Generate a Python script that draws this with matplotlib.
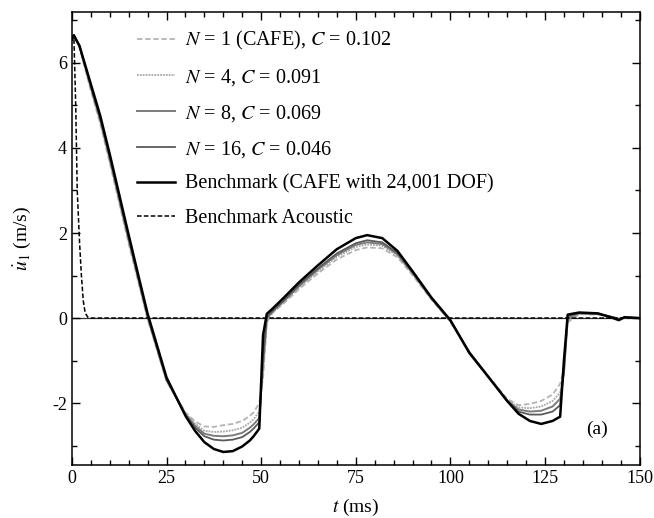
import matplotlib
matplotlib.use('Agg')
import matplotlib.pyplot as plt
from matplotlib.ticker import MultipleLocator

plt.rcParams['font.family'] = ['Liberation Serif', 'DejaVu Serif']
plt.rcParams['mathtext.fontset'] = 'stix'
plt.rcParams['axes.unicode_minus'] = False

# time grid (ms) shared by the CAFE curves
t = [0, 0.5, 2, 5, 7.5, 10, 12.5, 15, 17.5, 20, 25, 30, 32.5, 35, 37.5, 40, 42.5,
     45, 47, 48, 49.5, 50.5, 51.5, 53, 56, 60, 65, 70, 75, 78, 82, 86, 90, 95, 100,
     105, 110, 115, 118, 121, 124, 127, 129, 130, 131, 134, 139, 143, 144.5, 146,
     150]

benchmark = [6.55, 6.65, 6.4, 5.5, 4.75, 3.85, 2.9, 1.95, 1.02, 0.1, -1.4, -2.3,
             -2.65, -2.92, -3.08, -3.15, -3.13, -3.02, -2.88, -2.78, -2.6, -0.4,
             0.1, 0.22, 0.48, 0.84, 1.24, 1.62, 1.88, 1.95, 1.88, 1.58, 1.1, 0.48,
             -0.05, -0.82, -1.38, -1.95, -2.25, -2.42, -2.49, -2.42, -2.32, -1.0,
             0.08, 0.13, 0.11, 0.0, -0.05, 0.02, 0.0]

n16 = [6.55, 6.65, 6.4, 5.45, 4.68, 3.78, 2.83, 1.88, 0.96, 0.05, -1.45, -2.28,
       -2.58, -2.78, -2.86, -2.88, -2.86, -2.8, -2.68, -2.6, -2.45, -0.9, 0.02,
       0.17, 0.42, 0.78, 1.17, 1.52, 1.76, 1.83, 1.78, 1.53, 1.08, 0.47, -0.06,
       -0.8, -1.38, -1.95, -2.2, -2.27, -2.27, -2.2, -2.05, -1.2, 0.05, 0.12, 0.1,
       0.02, -0.03, 0.01, 0.0]

n8 = [6.55, 6.65, 6.4, 5.43, 4.65, 3.74, 2.79, 1.84, 0.93, 0.02, -1.46, -2.26,
      -2.53, -2.72, -2.77, -2.78, -2.76, -2.7, -2.58, -2.5, -2.35, -1.1, 0.0,
      0.15, 0.4, 0.75, 1.14, 1.48, 1.72, 1.78, 1.74, 1.5, 1.06, 0.46, -0.07,
      -0.8, -1.38, -1.94, -2.15, -2.2, -2.18, -2.08, -1.9, -1.3, 0.0, 0.11, 0.1,
      0.02, -0.02, 0.01, 0.0]

n4 = [6.55, 6.65, 6.38, 5.4, 4.62, 3.7, 2.75, 1.8, 0.9, 0.0, -1.47, -2.24,
      -2.48, -2.65, -2.68, -2.67, -2.64, -2.58, -2.46, -2.38, -2.2, -1.3, -0.05,
      0.13, 0.38, 0.72, 1.1, 1.44, 1.67, 1.73, 1.7, 1.47, 1.04, 0.45, -0.08,
      -0.8, -1.37, -1.93, -2.1, -2.12, -2.08, -1.95, -1.75, -1.3, -0.05, 0.1,
      0.09, 0.02, -0.02, 0.01, 0.0]

n1 = [6.55, 6.65, 6.35, 5.35, 4.57, 3.65, 2.7, 1.75, 0.86, -0.03, -1.48, -2.22,
      -2.43, -2.55, -2.56, -2.52, -2.49, -2.42, -2.3, -2.22, -2.0, -1.4, -0.1,
      0.12, 0.35, 0.68, 1.05, 1.38, 1.6, 1.66, 1.64, 1.43, 1.01, 0.43, -0.09,
      -0.8, -1.36, -1.9, -2.05, -2.02, -1.95, -1.8, -1.55, -1.2, -0.1, 0.09,
      0.08, 0.02, -0.02, 0.01, 0.0]

# benchmark acoustic solution
t_ac = [0, 0.5, 1.0, 1.4, 2.0, 2.5, 3.0, 3.5, 4.2, 5, 150]
acoustic = [6.6, 6.65, 5.0, 3.0, 1.8, 1.0, 0.4, 0.12, 0.02, 0.0, 0.0]

labels = [r'$N$ = 1 (CAFE), $C$ = 0.102', r'$N$ = 4, $C$ = 0.091',
          r'$N$ = 8, $C$ = 0.069', r'$N$ = 16, $C$ = 0.046',
          'Benchmark (CAFE with 24,001 DOF)', 'Benchmark Acoustic']


def main():
    fig = plt.figure(figsize=(6.54, 5.18), dpi=100)
    ax = fig.add_axes([0.110, 0.102, 0.868, 0.875])

    ax.axhline(0, color='#333333', lw=0.9, zorder=1)
    ax.plot(t, n1, color='#b4b4b4', lw=1.3, ls=(0, (3, 1.5)), label=labels[0])
    ax.plot(t, n4, color='#a8a8a8', lw=1.3, ls=(0, (1, 0.6)), label=labels[1])
    ax.plot(t, n8, color='#7c7c7c', lw=1.4, label=labels[2])
    ax.plot(t, n16, color='#5a5a5a', lw=1.3, label=labels[3])
    ax.plot(t, benchmark, color='black', lw=1.8, label=labels[4])
    ax.plot(t_ac, acoustic, color='black', lw=1.1, ls=(0, (3, 1.5)), label=labels[5])

    ax.set_xlim(0, 150)
    ax.set_ylim(-3.46, 7.2)
    ax.xaxis.set_major_locator(MultipleLocator(25))
    ax.xaxis.set_minor_locator(MultipleLocator(5))
    ax.yaxis.set_major_locator(MultipleLocator(2))
    ax.yaxis.set_minor_locator(MultipleLocator(1))
    ax.tick_params(which='both', direction='in', top=True, right=True,
                   labelsize=13, width=1)
    ax.tick_params(which='major', length=6)
    ax.tick_params(which='minor', length=3.5)
    for s in ax.spines.values():
        s.set_linewidth(1.1)

    ax.set_xlabel(r'$t$ (ms)', fontsize=14, labelpad=7)
    ax.set_ylabel(r'$\dot{u}_1$ (m/s)', fontsize=14, labelpad=14)
    ax.text(138.8, -2.62, '(a)', fontsize=14, ha='center', va='center')

    ax.legend(loc='upper left', bbox_to_anchor=(0.114, 0.962), frameon=False,
              fontsize=14.5, borderpad=0, borderaxespad=0, handlelength=1.9,
              handletextpad=0.5, labelspacing=0.74)

    fig.savefig('out.png', dpi=100)


if __name__ == '__main__':
    main()
